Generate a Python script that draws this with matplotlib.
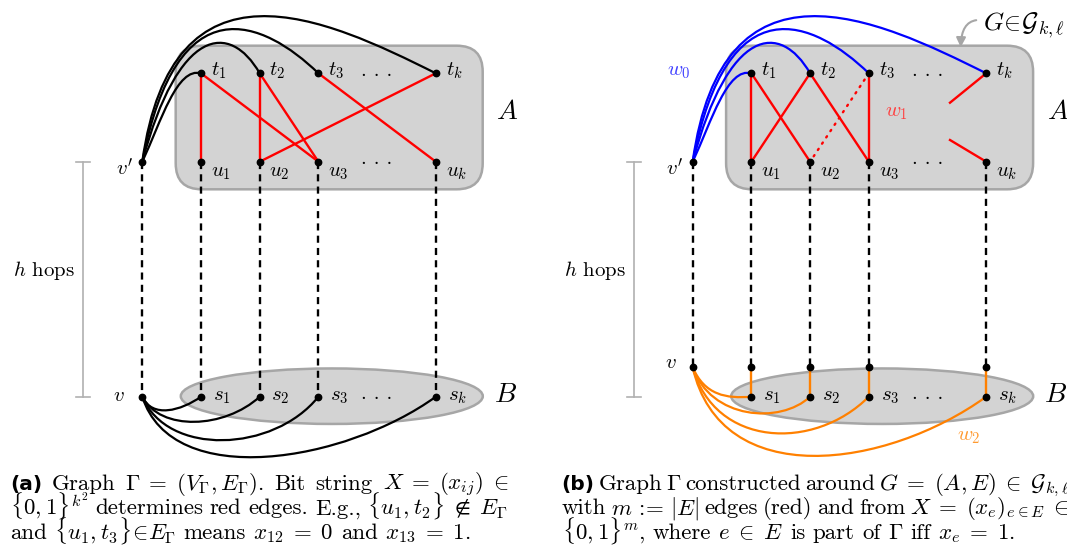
import numpy as np
import matplotlib.pyplot as plt
from matplotlib.patches import FancyBboxPatch, Ellipse, PathPatch, FancyArrowPatch
from matplotlib.path import Path

plt.rcParams["mathtext.fontset"] = "cm"
plt.rcParams["font.family"] = ["cmr10", "DejaVu Serif"]
plt.rcParams["axes.formatter.use_mathtext"] = True

# vertex columns (index i of t_i / u_i / s_i) and their slot in the row
cols = ["1", "2", "3", "k"]
col_slot = [1, 2, 3, 5]

# red edges {t_i, u_j}
red_a = [("1", "1"), ("1", "3"), ("2", "2"), ("2", "3"), ("3", "k"), ("k", "2")]
red_b = [("1", "1"), ("1", "2"), ("2", "1"), ("2", "3"), ("3", "3")]
dotted_b = [("3", "2")]

caption_a = [
    [("(a)", "bold"), "Graph", r"$\Gamma\;=\;(V_\Gamma, E_\Gamma)$.", "Bit", "string",
     r"$X\;=\;(x_{ij})\;\in$"],
    [r"$\{0,1\}^{k^2}$", "determines", "red", "edges.", "E.g.,",
     r"$\{u_1, t_2\}\;\notin\;E_\Gamma$"],
    ["and", r"$\{u_1, t_3\}\!\in\! E_\Gamma$", "means", r"$x_{12}\;=\;0$", "and",
     r"$x_{13}\;=\;1$."],
]
caption_b = [
    [("(b)", "bold"), "Graph", r"$\Gamma$", "constructed", "around",
     r"$G\;=\;(A, E)\;\in\;\mathcal{G}_{k,\ell}$"],
    ["with", "$m$ := $|E|$", "edges", "(red)", "and", "from",
     r"$X\;=\;(x_e)_{e\in E}\;\in$"],
    [r"$\{0,1\}^m$,", "where", r"$e\;\in\;E$", "is", "part", "of", r"$\Gamma$", "iff",
     r"$x_e\;=\;1$."],
]

# layout (pixels, y down)
STEP = 58.7
Y_T, Y_U, Y_S, Y_S2 = 73.3, 161.7, 396.7, 367.3
RED, BLUE, ORANGE = "#ff0000", "#0000ff", "#ff8000"
GRAY_FILL, GRAY_EDGE = "#d3d3d3", "#a6a6a6"

top_ctrl = {"1": ((19, -41), (-24, -6.5)), "2": ((36, -135), (-30, -52)),
            "3": ((35, -180), (-55, -53)), "k": ((30, -215), (-110, -55))}
bot_ctrl_a = {"1": ((10, 22), (-20, 14)), "2": ((18, 35), (-35, 32)),
              "3": ((25, 60), (-45, 56)), "k": ((30, 95), (-90, 65))}
bot_ctrl_b = {"1": ((12, 28), (-25, 2)), "2": ((18, 52), (-30, 28)),
              "3": ((22, 80), (-55, 55)), "k": ((28, 125), (-100, 72))}

fig = plt.figure(figsize=(10.67, 5.45), dpi=100)
ax = fig.add_axes([0, 0, 1, 1])
ax.set_xlim(0, 1067)
ax.set_ylim(545, 0)
ax.axis("off")


def bez(p0, p1, ctrl, color):
    (a, b), (c, d) = ctrl
    verts = [p0, (p0[0] + a, p0[1] + b), (p1[0] + c, p1[1] + d), p1]
    path = Path(verts, [Path.MOVETO, Path.CURVE4, Path.CURVE4, Path.CURVE4])
    ax.add_patch(PathPatch(path, fc="none", ec=color, lw=1.6, zorder=3))


def dashed(x, y0, y1):
    ax.plot([x, x], [y0, y1], color="black", lw=1.7, dashes=(3.0, 2.2), zorder=2)


def node(x, y):
    ax.plot(x, y, "o", color="black", ms=4.6, zorder=5)


def panel(x0, red, dotted, top_col, bot_col, s_top, bot_ctrl, bracket_x):
    xs = {c: x0 + STEP * s for c, s in zip(cols, col_slot)}
    # regions
    ax.add_patch(FancyBboxPatch((x0 + 33.4, 45.7), 307, 143.6,
                                boxstyle="round,pad=0,rounding_size=26",
                                fc=GRAY_FILL, ec=GRAY_EDGE, lw=1.8, zorder=1))
    ax.add_patch(Ellipse((x0 + 189.5, 396.2), 302, 55.5, fc=GRAY_FILL, ec=GRAY_EDGE,
                         lw=1.8, zorder=1))
    ax.text(x0 + 365, 112, "$A$", fontsize=20, ha="center", va="center")
    ax.text(x0 + 363, 395, "$B$", fontsize=20, ha="center", va="center")

    # h hops bracket
    ax.plot([bracket_x, bracket_x], [Y_U, Y_S], color="#b0b0b0", lw=1.2)
    for yy in (Y_U, Y_S):
        ax.plot([bracket_x - 7, bracket_x + 7], [yy, yy], color="#b0b0b0", lw=1.2)
    ax.text(bracket_x - 8, 270, "$h$ hops", fontsize=15, ha="right", va="center")

    # vertical dashed paths
    y_end = s_top if s_top else Y_S
    dashed(x0, Y_U, y_end)
    for c in cols:
        dashed(xs[c], Y_U, y_end)

    # red edges
    for t, u in red:
        ax.plot([xs[t], xs[u]], [Y_T, Y_U], color=RED, lw=1.7, zorder=3)
    for t, u in dotted:
        ax.plot([xs[t], xs[u]], [Y_T, Y_U], color=RED, lw=1.7, zorder=3,
                dashes=(0.6, 2.6), dash_capstyle="round")

    # curves v' -> t_i and v -> s_i
    yv = s_top if s_top else Y_S
    for c in cols:
        bez((x0, Y_U), (xs[c], Y_T), top_ctrl[c], top_col)
        bez((x0, yv), (xs[c], Y_S), bot_ctrl[c], bot_col)
        if s_top:
            ax.plot([xs[c], xs[c]], [s_top, Y_S], color=ORANGE, lw=1.7, zorder=3)
            node(xs[c], s_top)

    # vertices and labels
    node(x0, Y_U)
    node(x0, yv)
    ax.text(x0 - 9.4, Y_U + 13.5, "$v'$", fontsize=15, ha="right", va="baseline")
    ax.text(x0 - (16 if s_top else 18), yv + (1 if s_top else 4), "$v$", fontsize=15,
            ha="right", va="baseline")
    for c in cols:
        x = xs[c]
        node(x, Y_T)
        node(x, Y_U)
        node(x, Y_S)
        ax.text(x + 9.7, Y_T + 1.7, "$t_%s$" % c, fontsize=15, va="baseline")
        ax.text(x + 9.7, Y_U + 14.5, "$u_%s$" % c, fontsize=15, va="baseline")
        ax.text(x + 11.7, Y_S + 4, "$s_%s$" % c, fontsize=15, va="baseline")
    xd = x0 + STEP * 4
    for yy in (Y_T, Y_U, Y_S):
        ax.text(xd, yy + 2.5, ". . .", fontsize=15, ha="center", va="baseline")
    return xs


def caption(x0, x1, y0, lines, size=16.5, lead=24.5):
    r = fig.canvas.get_renderer()
    for k, words in enumerate(lines):
        y = y0 + k * lead
        texts = []
        for w in words:
            if isinstance(w, tuple):
                t = ax.text(0, y, w[0], fontsize=size - 2, va="baseline",
                            family="DejaVu Sans", weight="bold")
            else:
                t = ax.text(0, y, w, fontsize=size, va="baseline")
            texts.append(t)
        widths = [t.get_window_extent(r).width for t in texts]
        if k < len(lines) - 1:
            gap = (x1 - x0 - sum(widths)) / (len(texts) - 1)
        else:
            gap = 0.32 * size * 100 / 72
        x = x0
        for t, w in zip(texts, widths):
            t.set_x(x)
            x += w + gap


panel(142.3, red_a, [], "black", "black", None, bot_ctrl_a, 83.3)
xs_b = panel(692.7, red_b, dotted_b, BLUE, ORANGE, Y_S2, bot_ctrl_b, 634)

# stubs of the remaining red edges at t_k and u_k
ax.plot([xs_b["k"], 950], [Y_T, 102.7], color=RED, lw=1.7, zorder=3)
ax.plot([950, xs_b["k"]], [140, Y_U], color=RED, lw=1.7, zorder=3)

ax.text(690.7, 75, "$w_0$", fontsize=15, ha="right", va="baseline", color="#4040ff")
ax.text(896, 113, "$w_1$", fontsize=15, ha="center", va="center", color="#ff4040")
ax.text(969, 437, "$w_2$", fontsize=15, ha="center", va="center", color="#ff9a30")

ax.text(983, 30, r"$G\!\in\!\mathcal{G}_{k,\ell}$", fontsize=18.5, va="baseline")
ax.add_patch(FancyArrowPatch((979, 20), (960.7, 50),
                             connectionstyle="angle3,angleA=180,angleB=90",
                             arrowstyle="-|>", mutation_scale=14, color="#a6a6a6", lw=1.5,
                             zorder=6))

caption(10, 508, 490, caption_a)
caption(561.7, 1069, 490, caption_b)

fig.savefig("out.png", dpi=100)
